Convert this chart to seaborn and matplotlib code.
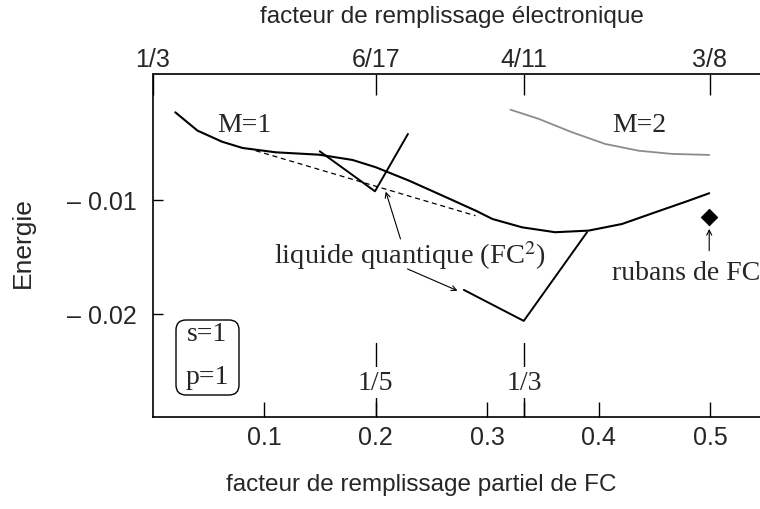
import numpy as np
import pandas as pd
import matplotlib
matplotlib.use("Agg")
import matplotlib.pyplot as plt
from matplotlib.patches import FancyBboxPatch
import seaborn as sns

# ---------------- data ----------------
m1_x = [0.020, 0.040, 0.062, 0.0804, 0.1103, 0.1492, 0.1791, 0.2000, 0.2300,
        0.2599, 0.2898, 0.3048, 0.3314, 0.361, 0.391, 0.421, 0.451, 0.481, 0.4994]
m1_y = [-0.00231, -0.00392, -0.00489, -0.00544, -0.00582, -0.00603, -0.00649,
        -0.00713, -0.00831, -0.00962, -0.01094, -0.01167, -0.01240, -0.01283,
        -0.01269, -0.01211, -0.01108, -0.01006, -0.00941]

m2_x = [0.3209, 0.3464, 0.3762, 0.4061, 0.4361, 0.4659, 0.4994]
m2_y = [-0.00208, -0.00289, -0.00406, -0.00509, -0.00568, -0.00596, -0.00605]

tangent_x = [0.0922, 0.2895]
tangent_y = [-0.00568, -0.01138]

liq15_x = [0.1497, 0.1993, 0.2289]
liq15_y = [-0.00573, -0.00924, -0.00421]

liq13_x = [0.2791, 0.3329, 0.3897]
liq13_y = [-0.01789, -0.02061, -0.01283]

ribbon_x = [0.4994]
ribbon_y = [-0.01152]

bottom_ticks = [0.1, 0.2, 0.3, 0.4, 0.5]
bottom_labels = ["0.1", "0.2", "0.3", "0.4", "0.5"]
extra_ticks = [1 / 3]
y_ticks = [-0.02, -0.01]
y_labels = ["\u2013 0.02", "\u2013 0.01"]
top_ticks = [0.0, 0.2, 1 / 3, 0.5]
top_labels = ["1/3", "6/17", "4/11", "3/8"]
marks_x = [0.2, 1 / 3]
marks_labels = ["1/5", "1/3"]
params_labels = ["s=1", "p=1"]

# ---------------- style ----------------
sns.set_style("white")
plt.rcParams["font.family"] = ["Liberation Sans", "DejaVu Sans"]
plt.rcParams["mathtext.fontset"] = "stix"
SERIF = ["Liberation Serif", "DejaVu Serif"]
TICK_FS = 18
LAB_FS = 17.5
SER_FS = 20

fig = plt.figure(figsize=(7.6, 5.1), dpi=100)
AX_W, AX_H = 760 - 153, 418 - 75
ax = fig.add_axes([153 / 760, 92 / 510, AX_W / 760, AX_H / 510])

black = "#000000"
gray = "#8c8c8c"

def line(xs, ys, **kw):
    df = pd.DataFrame({"x": xs, "y": ys})
    sns.lineplot(data=df, x="x", y="y", ax=ax, sort=False, estimator=None, **kw)

line(m1_x, m1_y, color=black, lw=1.5)
line(m2_x, m2_y, color=gray, lw=1.3)
line(tangent_x, tangent_y, color=black, lw=0.9, linestyle=(0, (4, 3)))
line(liq15_x, liq15_y, color=black, lw=1.4)
line(liq13_x, liq13_y, color=black, lw=1.4)
sns.scatterplot(x=ribbon_x, y=ribbon_y, ax=ax, marker="D", s=70, color=black,
                edgecolor=black, zorder=5)

ax.set_xlim(0.0, 0.545)
ax.set_ylim(-0.02904, 0.00105)

for s in ["left", "bottom", "top"]:
    ax.spines[s].set_visible(True)
    ax.spines[s].set_color(black)
    ax.spines[s].set_linewidth(1.2)
ax.spines["right"].set_visible(False)

ax.set_xticks(bottom_ticks + extra_ticks)
ax.set_xticklabels(bottom_labels + [""])
ax.set_yticks(y_ticks)
ax.set_yticklabels(y_labels)
ax.tick_params(axis="x", direction="in", length=11, width=1.0, color=black,
               labelsize=TICK_FS, pad=6, bottom=True, top=False)
ax.tick_params(axis="y", direction="in", length=7, width=1.0, color=black,
               labelsize=TICK_FS, pad=11.5, left=True, right=False)
ax.set_xlabel("facteur de remplissage partiel de FC", fontsize=LAB_FS, va="center")
ax.xaxis.set_label_coords((421 - 153) / AX_W, (418 - 485) / AX_H)
ax.set_ylabel("Energie", fontsize=19, va="center")
ax.yaxis.set_label_coords((23 - 153) / AX_W, (418 - 243) / AX_H)

ax2 = ax.twiny()
ax2.set_xlim(ax.get_xlim())
ax2.set_xticks(top_ticks)
ax2.set_xticklabels(top_labels)
ax2.tick_params(axis="x", direction="in", length=15, width=1.0, color=black,
                labelsize=TICK_FS, pad=2)
for s in ["left", "bottom", "right"]:
    ax2.spines[s].set_visible(False)
ax2.spines["top"].set_visible(True)
ax2.spines["top"].set_linewidth(1.2)
ax2.set_xlabel("facteur de remplissage \u00e9lectronique", fontsize=LAB_FS, va="center")
ax2.xaxis.set_label_coords((452 - 153) / AX_W, 1 + (75 - 17) / AX_H)

# vertical marks at 1/5 and 1/3
for xm, lab in zip(marks_x, marks_labels):
    ax.plot([xm, xm], [-0.02904, -0.02254], color=black, lw=1.0)
    ax.text(xm, -0.02600, lab, ha="center", va="center", fontsize=SER_FS,
            family=SERIF, bbox=dict(boxstyle="square,pad=0.12", fc="white", ec="none"))

# annotations
ax.text(0.0822, -0.00340, "M=1", fontsize=SER_FS, family=SERIF, ha="center", va="center")
ax.text(0.4368, -0.00340, "M=2", fontsize=SER_FS, family=SERIF, ha="center", va="center")
ax.text(0.231, -0.01480, "liquide quantique (FC$^2$)", fontsize=20.5, family=SERIF,
        ha="center", va="center")
ax.text(0.479, -0.01632, "rubans de FC", fontsize=SER_FS, family=SERIF,
        ha="center", va="center")

# parameter box (s=1, p=1)
bx0, bx1 = (176 - 153) / AX_W, (239 - 153) / AX_W
by0, by1 = (418 - 396) / AX_H, (418 - 321) / AX_H
box = FancyBboxPatch((bx0, by0), bx1 - bx0, by1 - by0,
                     boxstyle="round,pad=0,rounding_size=%f" % (10 / AX_W),
                     mutation_aspect=AX_W / AX_H, transform=ax.transAxes,
                     fc="white", ec=black, lw=1.0, zorder=4)
ax.add_patch(box)
for lab, py in zip(params_labels, [335, 378]):
    ax.text((bx0 + bx1) / 2, (418 - py) / AX_H, lab, transform=ax.transAxes,
            fontsize=SER_FS, family=SERIF, ha="center", va="center", zorder=5)

arrow = dict(arrowstyle="->", color=black, lw=0.8, shrinkA=0, shrinkB=0, mutation_scale=9)
ax.annotate("", xy=(0.209, -0.00927), xytext=(0.2222, -0.01342), arrowprops=arrow)
ax.annotate("", xy=(0.2734, -0.01796), xytext=(0.2285, -0.01605), arrowprops=arrow)
ax.annotate("", xy=(0.4994, -0.01254), xytext=(0.4994, -0.01445), arrowprops=arrow)

fig.savefig("out.png", dpi=100)
